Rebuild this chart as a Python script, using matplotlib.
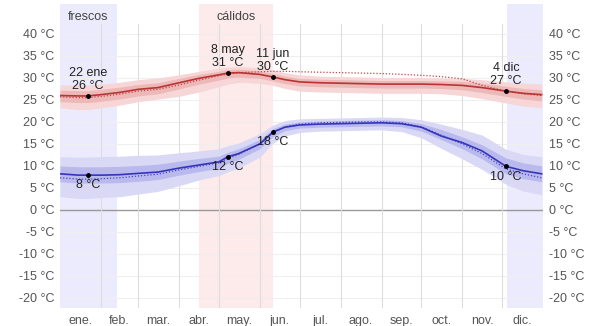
#!/usr/bin/env python3
# -*- coding: utf-8 -*-
"""
Temperatura máxima y mínima promedio (diaria), con bandas de percentiles.
Guarda out.png (603x326 px).
"""

import matplotlib
matplotlib.use("Agg")
import matplotlib.pyplot as plt

plt.rcParams["font.family"] = ["Liberation Sans", "DejaVu Sans"]

# -------------------- datos --------------------
# día del año (0 = 1 ene)
DAYS = [0, 14, 21, 31, 45, 59, 74, 90, 105, 120, 127, 135, 151, 161,
        170, 181, 196, 212, 227, 243, 258, 273, 288, 304, 319, 337, 350, 364]

HIGH = [26.0, 25.9, 25.9, 26.2, 26.7, 27.4, 27.8, 28.9, 29.9, 30.7, 31.1, 31.2, 30.8, 30.2,
        29.6, 29.1, 28.9, 28.8, 28.7, 28.6, 28.6, 28.6, 28.5, 28.3, 27.8, 27.0, 26.5, 26.2]
HIGH_FEELS = [25.7, 25.5, 25.5, 25.8, 26.3, 27.0, 27.4, 28.4, 29.5, 30.5, 30.9, 31.2, 31.4, 31.5,
              31.5, 31.4, 31.3, 31.2, 31.1, 31.0, 30.8, 30.6, 30.3, 29.8, 28.3, 27.0, 26.4, 26.0]
HIGH_P90 = [28.4, 28.4, 28.4, 28.6, 29.0, 29.6, 30.0, 30.7, 31.5, 32.2, 32.5, 32.6, 32.3, 31.8,
            31.2, 30.7, 30.4, 30.3, 30.2, 30.1, 30.1, 30.1, 30.0, 29.9, 29.6, 29.1, 28.8, 28.6]
HIGH_P75 = [27.2, 27.1, 27.1, 27.4, 27.9, 28.5, 28.9, 29.9, 30.8, 31.5, 31.9, 32.0, 31.6, 31.0,
            30.4, 29.9, 29.7, 29.6, 29.5, 29.4, 29.4, 29.4, 29.3, 29.2, 28.8, 28.1, 27.6, 27.3]
HIGH_P25 = [24.6, 24.4, 24.4, 24.7, 25.2, 25.9, 26.4, 27.5, 28.6, 29.5, 30.0, 30.2, 29.9, 29.3,
            28.7, 28.2, 28.0, 27.9, 27.8, 27.7, 27.7, 27.7, 27.6, 27.3, 26.7, 25.8, 25.2, 24.8]
HIGH_P10 = [23.2, 22.8, 22.8, 23.2, 23.8, 24.6, 25.2, 25.8, 26.8, 28.0, 28.6, 29.0, 28.8, 28.3,
            27.6, 27.0, 26.8, 26.7, 26.6, 26.5, 26.5, 26.5, 26.4, 26.0, 25.3, 24.3, 23.6, 23.2]

LOW = [8.2, 7.9, 7.9, 7.9, 8.0, 8.3, 8.6, 9.5, 10.2, 10.9, 12.1, 12.8, 15.0, 17.7,
       18.8, 19.3, 19.5, 19.6, 19.7, 19.8, 19.6, 18.8, 16.8, 15.3, 13.4, 9.9, 8.9, 8.2]
LOW_FEELS = [7.3, 7.0, 7.0, 7.1, 7.3, 7.7, 8.1, 9.1, 9.9, 10.7, 11.7, 12.6, 15.0, 17.6,
             18.9, 19.5, 19.8, 19.9, 20.0, 20.0, 19.8, 18.9, 17.0, 15.0, 12.8, 9.3, 8.2, 7.3]
LOW_P90 = [12.1, 12.0, 12.0, 12.1, 12.2, 12.4, 12.5, 13.0, 13.4, 13.9, 14.6, 15.2, 17.3, 19.3,
           20.3, 20.7, 20.8, 20.9, 21.0, 21.1, 21.0, 20.5, 19.5, 18.3, 17.0, 13.8, 12.6, 12.1]
LOW_P75 = [10.0, 9.8, 9.8, 9.8, 9.9, 10.1, 10.4, 11.1, 11.7, 12.2, 13.1, 13.9, 16.0, 18.5,
           19.5, 20.0, 20.2, 20.3, 20.4, 20.5, 20.3, 19.6, 18.3, 16.6, 14.8, 11.8, 10.7, 10.0]
LOW_P25 = [6.4, 6.1, 6.1, 6.1, 6.2, 6.5, 6.9, 7.9, 8.7, 9.5, 10.6, 11.5, 13.9, 16.7,
           18.0, 18.6, 18.8, 18.9, 19.0, 19.1, 18.9, 17.9, 16.0, 13.9, 11.6, 8.2, 7.1, 6.4]
LOW_P10 = [3.0, 2.6, 2.6, 2.8, 3.0, 3.6, 4.2, 5.5, 6.8, 7.8, 8.7, 9.5, 12.0, 15.2,
           16.8, 17.6, 17.9, 18.0, 18.1, 18.2, 17.8, 16.4, 14.0, 11.6, 9.2, 5.8, 4.3, 3.4]

# anotaciones: (día, etiqueta fecha, valor)
HIGH_NOTES = [(21, "22 ene", 26), (127, "8 may", 31), (161, "11 jun", 30), (337, "4 dic", 27)]
LOW_NOTES = [(21, 8), (127, 12), (161, 18), (337, 10)]

# estaciones
COOL_SEASON = [(0, 43), (338, 365)]
HOT_SEASON = (105, 161)

MONTH_STARTS = [0, 31, 59, 90, 120, 151, 181, 212, 243, 273, 304, 334, 365]
MONTH_LABELS = ["ene.", "feb.", "mar.", "abr.", "may.", "jun.",
                "jul.", "ago.", "sep.", "oct.", "nov.", "dic."]
YTICKS = list(range(-20, 45, 5))

# -------------------- figura --------------------
fig = plt.figure(figsize=(6.03, 3.26), dpi=100)
ax = fig.add_axes([0.0995, 0.0552, 0.801, 0.9325])
ax.set_xlim(0, 365)
ax.set_ylim(-22.3, 46.8)

for a, b in COOL_SEASON:
    ax.axvspan(a, b, color="#ebebfd", zorder=0, lw=0)
ax.axvspan(HOT_SEASON[0], HOT_SEASON[1], color="#fdeaea", zorder=0, lw=0)
ax.text(sum(COOL_SEASON[0]) / 2, 43.9, "frescos", ha="center", va="center",
        fontsize=9, color="#444444")
ax.text(sum(HOT_SEASON) / 2, 43.9, "cálidos", ha="center", va="center",
        fontsize=9, color="#444444")

# rejilla
for y in YTICKS:
    ax.axhline(y, color="#999999" if y == 0 else "#efefef", lw=1 if y == 0 else 0.8, zorder=1)
for d in MONTH_STARTS[1:-1]:
    ax.plot([d, d], [-22.3, 42.3], color="#dddddd", lw=0.8, zorder=1)

# bandas
ax.fill_between(DAYS, HIGH_P10, HIGH_P90, color="#f6d6d6", lw=0, zorder=2)
ax.fill_between(DAYS, HIGH_P25, HIGH_P75, color="#ecb8b8", lw=0, zorder=2)
ax.fill_between(DAYS, LOW_P10, LOW_P90, color="#d9d9f6", lw=0, zorder=2)
ax.fill_between(DAYS, LOW_P25, LOW_P75, color="#b9b9ee", lw=0, zorder=2)

# líneas
ax.plot(DAYS, HIGH_FEELS, color="#c04848", lw=0.9, ls=(0, (1, 1.5)), zorder=3)
ax.plot(DAYS, LOW_FEELS, color="#4848c0", lw=0.9, ls=(0, (1, 1.5)), zorder=3)
ax.plot(DAYS, HIGH, color="#bb3333", lw=1.2, zorder=4)
ax.plot(DAYS, LOW, color="#3535bb", lw=1.2, zorder=4)

# puntos y etiquetas
for d, lab, v in HIGH_NOTES:
    y = HIGH[DAYS.index(d)]
    ax.plot(d, y, "o", color="black", ms=2.5, zorder=5)
    ax.annotate(f"{lab}\n{v} °C", (d, y), xytext=(0, 3), textcoords="offset points",
                ha="center", va="bottom", fontsize=9, color="#222222",
                linespacing=1.1, zorder=6)
for d, v in LOW_NOTES:
    y = LOW[DAYS.index(d)]
    ax.plot(d, y, "o", color="black", ms=2.5, zorder=5)
    ax.annotate(f"{v} °C", (d, y), xytext=(0, -3), textcoords="offset points",
                ha="center", va="top", fontsize=9, color="#222222", zorder=6)

# ejes
month_centers = [(MONTH_STARTS[i] + MONTH_STARTS[i + 1]) / 2 for i in range(12)]
ax.set_xticks(month_centers)
ax.set_xticklabels(MONTH_LABELS)
ax.set_yticks(YTICKS)
ax.set_yticklabels([f"{y} °C" for y in YTICKS])
ax.tick_params(axis="both", length=0, labelsize=9, labelcolor="#555555")
ax.tick_params(axis="x", pad=5)
ax.tick_params(axis="y", pad=4, right=True, labelright=True)
for s in ax.spines.values():
    s.set_visible(False)

fig.savefig("out.png", dpi=100)
